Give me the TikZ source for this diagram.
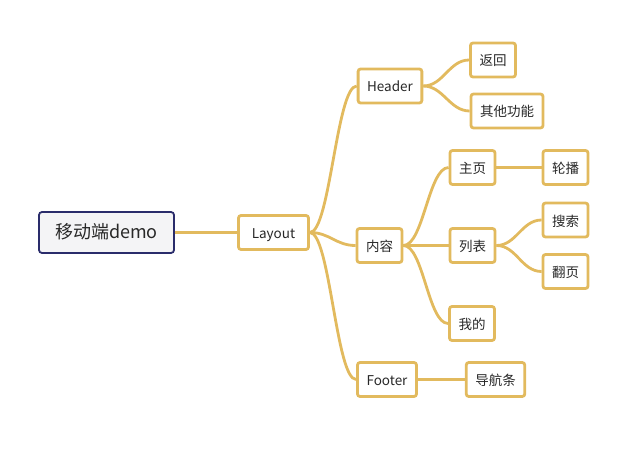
\documentclass[tikz,border=0pt]{standalone}
\usepackage{fontspec}
\setmainfont{Noto Sans CJK SC}
\definecolor{branchgold}{RGB}{226,186,94}
\definecolor{rootnavy}{RGB}{42,44,107}
\definecolor{rootfill}{RGB}{244,244,246}
\definecolor{topictext}{RGB}{40,40,40}

\tikzset{
  topic/.style={draw=branchgold,line width=2.8pt,rounded corners=2.5pt,fill=white,
    text=topictext,minimum height=34pt,inner xsep=9pt,text height=1.2em,text depth=0pt,
    font=\fontsize{13.5}{16}\selectfont},
  roottopic/.style={draw=rootnavy,line width=1.8pt,rounded corners=3pt,fill=rootfill,
    text=topictext,minimum width=135pt,minimum height=41pt,text height=1.15em,text depth=0pt,
    font=\fontsize{18}{21}\selectfont},
  branch/.style={draw=branchgold,line width=2.8pt},
}

\begin{document}
\begin{tikzpicture}[x=1pt,y=-1pt]
      \useasboundingbox (0,0) rectangle (633,452);
      % topics
      \node[roottopic] (root)   at (106.5,232.5) {移动端demo};
      \node[topic,minimum width=70pt] (layout) at (273.5,232.5) {Layout};
      \node[topic] (header)  at (390,86)    {Header};
      \node[topic] (content) at (379.5,245.5) {内容};
      \node[topic] (footer)  at (387,379.5) {Footer};
      \node[topic] (back)    at (493,60)    {返回};
      \node[topic] (other)   at (507,111)   {其他功能};
      \node[topic] (home)    at (472.5,167.5) {主页};
      \node[topic] (list)    at (472.5,245.5) {列表};
      \node[topic] (mine)    at (472,323.5) {我的};
      \node[topic] (slider)  at (565.5,167.5) {轮播};
      \node[topic] (search)  at (565.5,220)  {搜索};
      \node[topic] (paging)  at (565.5,271.5) {翻页};
      \node[topic] (navbar)  at (495.5,379.5) {导航条};
      % straight branches
      \foreach \a/\b in {root/layout,home/slider,footer/navbar}
        \draw[branch] (\a.east) -- (\b.west);
      % curved branches
      \foreach \a/\b in {layout/header,layout/content,layout/footer,
                         header/back,header/other,
                         content/home,content/list,content/mine,
                         list/search,list/paging}
        \draw[branch] (\a.east) .. controls +(20,0) and +(-20,0) .. (\b.west);
\end{tikzpicture}
\end{document}
